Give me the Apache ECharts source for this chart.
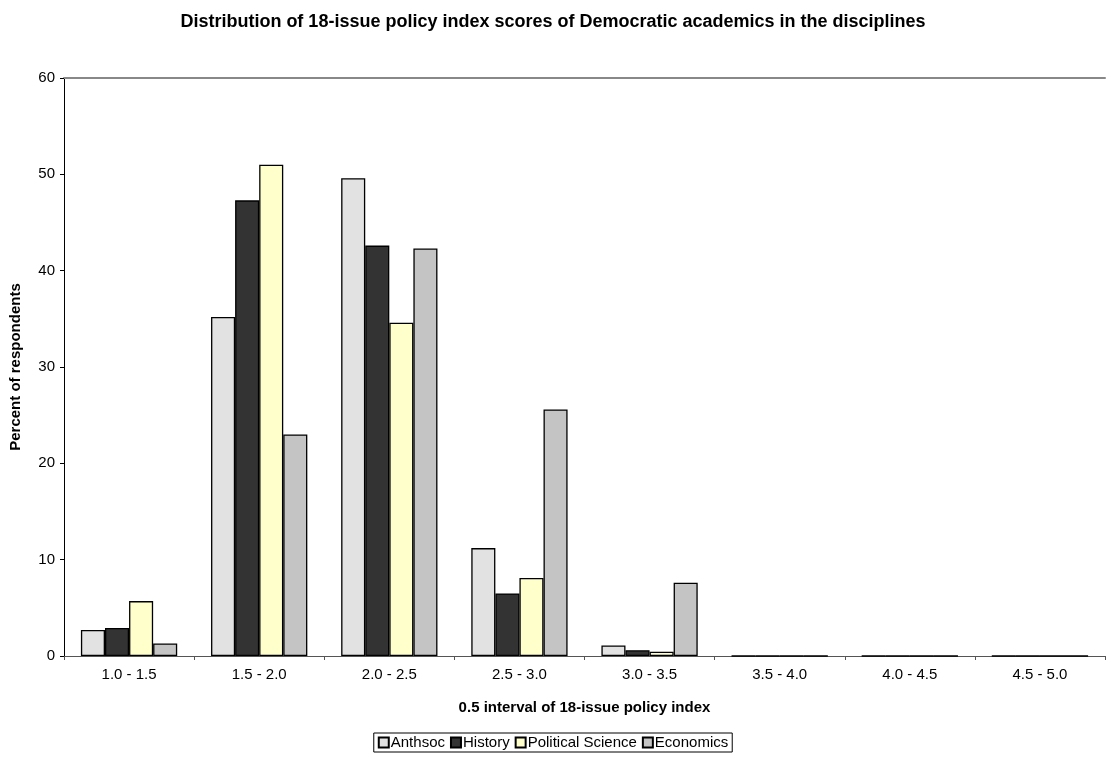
<!DOCTYPE html>
<html>
<head>
<meta charset="utf-8">
<script src="https://cdn.jsdelivr.net/npm/echarts@6/dist/echarts.min.js"></script>
<style>html,body{margin:0;padding:0;background:#fff;}#c{width:1106px;height:760px;}</style>
</head>
<body>
<div id="c"></div>
<script>
const categories = ['1.0 - 1.5','1.5 - 2.0','2.0 - 2.5','2.5 - 3.0','3.0 - 3.5','3.5 - 4.0','4.0 - 4.5','4.5 - 5.0'];
const anthsoc = [2.7, 35.2, 49.6, 11.2, 1.1, 0, 0, 0];
const history = [2.9, 47.3, 42.6, 6.5, 0.6, 0, 0, 0];
const polsci = [5.7, 51.0, 34.6, 8.1, 0.45, 0, 0, 0];
const economics = [1.3, 23.0, 42.3, 25.6, 7.6, 0, 0, 0];
const yTicks = [0, 10, 20, 30, 40, 50, 60];

const font = 'Liberation Sans, Arial, sans-serif';
const chart = echarts.init(document.getElementById('c'));
function s(name, data, color) {
  return {
    name, type: 'bar', data, barGap: '0%', barCategoryGap: '26%',
    itemStyle: { color, borderColor: '#000', borderWidth: 1.3 },
    emphasis: { disabled: true }
  };
}
chart.setOption({
  animation: false,
  textStyle: { fontFamily: font },
  title: {
    text: 'Distribution of 18-issue policy index scores of Democratic academics in the disciplines',
    left: 'center', top: 8,
    textStyle: { fontFamily: font, fontSize: 18, fontWeight: 'bold', color: '#000' }
  },
  legend: {
    top: 733, left: 'center', icon: 'rect',
    data: ['Anthsoc', 'History', 'Political Science', 'Economics'],
    itemWidth: 10, itemHeight: 10, itemGap: 5,
    borderColor: '#000', borderWidth: 1, padding: [2, 4, 2, 4],
    textStyle: { fontFamily: font, fontSize: 15, color: '#000', padding: [0, 0, 0, -3] }
  },
  grid: { left: 63, right: 1, top: 78, bottom: 104, containLabel: false },
  xAxis: [{
    type: 'category', data: categories,
    name: '0.5 interval of 18-issue policy index', nameLocation: 'middle', nameGap: 44,
    nameTextStyle: { fontFamily: font, fontSize: 15, fontWeight: 'bold', color: '#000' },
    axisLine: { lineStyle: { color: '#555', width: 1 } },
    axisTick: { show: true, length: 4, lineStyle: { color: '#555' } },
    axisLabel: { fontFamily: font, fontSize: 15, color: '#000', margin: 11 }
  }, {
    type: 'category', data: categories, position: 'top',
    axisLine: { show: true, lineStyle: { color: '#888', width: 2 } },
    axisTick: { show: false }, axisLabel: { show: false }
  }],
  yAxis: {
    type: 'value', min: 0, max: 60, interval: 10,
    name: 'Percent of respondents', nameLocation: 'middle', nameGap: 41,
    nameTextStyle: { fontFamily: font, fontSize: 15, fontWeight: 'bold', color: '#000' },
    axisLine: { show: true, lineStyle: { color: '#000', width: 1 } },
    axisTick: { show: true, length: 4, lineStyle: { color: '#000' } },
    axisLabel: { fontFamily: font, fontSize: 15, color: '#000', margin: 9,
      formatter: v => yTicks.includes(v) ? String(v) : '' },
    splitLine: { show: false }
  },
  series: [
    s('Anthsoc', anthsoc, '#e2e2e2'),
    s('History', history, '#333333'),
    s('Political Science', polsci, '#ffffcc'),
    s('Economics', economics, '#c4c4c4')
  ]
});
</script>
</body>
</html>
